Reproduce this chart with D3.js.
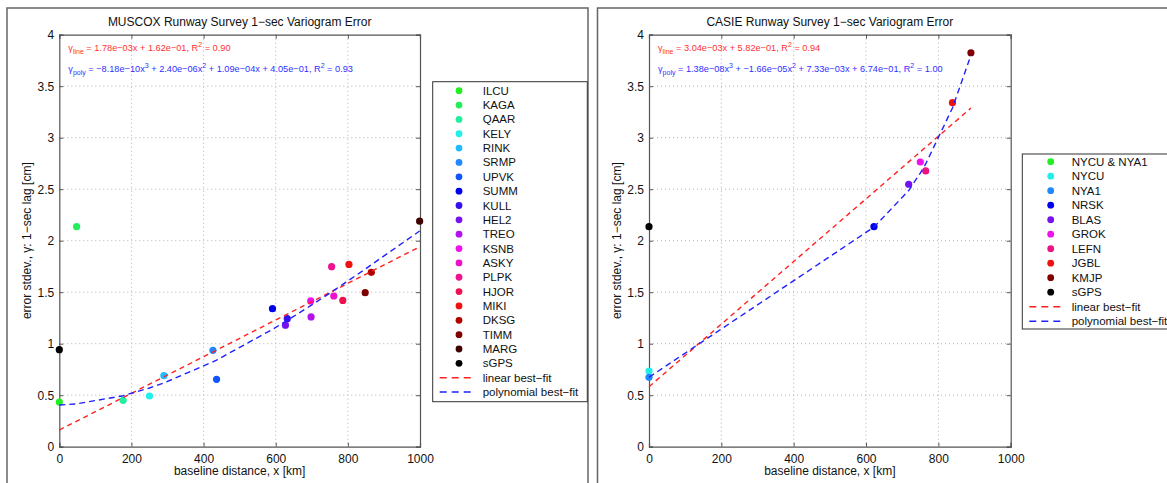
<!DOCTYPE html>
<html>
<head>
<meta charset="utf-8">
<script src="https://cdn.jsdelivr.net/npm/d3@7"></script>
<style>
  body { margin: 0; background: #fff; }
  text { font-family: "Liberation Sans", Arial, Helvetica, sans-serif; }
</style>
</head>
<body>
<svg id="chart" width="1167" height="483"></svg>
<script>
// ---- MUSCOX data ----
const muscoxSites = ["ILCU", "KAGA", "QAAR", "KELY", "RINK", "SRMP", "UPVK", "SUMM", "KULL", "HEL2",
  "TREO", "KSNB", "ASKY", "PLPK", "HJOR", "MIKI", "DKSG", "TIMM", "MARG", "sGPS"];
const muscoxX = [0, 48, 177, 250, 290, 426, 436, 591, 632, 627, 698, 697, 761, 755, 786, 803, 865, 848, 999, 0];
const muscoxY = [0.434, 2.136, 0.45, 0.492, 0.69, 0.936, 0.654, 1.34, 1.243, 1.18, 1.26, 1.415, 1.463, 1.748, 1.42, 1.77, 1.693, 1.495, 2.19, 0.942];
const muscoxColors = ["#22ee22", "#22ee5a", "#22eea0", "#22eeee", "#22bbff", "#2288ff", "#1055ff", "#0000ee", "#3311ee", "#7711ee",
  "#b311ee", "#ee11ee", "#ee11cc", "#ee1190", "#ee1150", "#ee1111", "#b00000", "#800000", "#400000", "#000000"];
const muscoxLinX = [0, 1000];
const muscoxLinY = [0.162, 1.942];
const muscoxPolyX = [0, 48, 177, 250, 290, 426, 436, 591, 627, 632, 697, 698, 755, 761, 786, 803, 848, 865, 999];
const muscoxPolyY = [0.405, 0.416, 0.495, 0.570, 0.619, 0.824, 0.841, 1.139, 1.215, 1.226, 1.370, 1.372, 1.503, 1.517, 1.576, 1.616, 1.724, 1.766, 2.094];
const muscoxLinEq = ["line", " = 1.78e\u221203x + 1.62e\u221201, R", " = 0.90"];
const muscoxPolyEq = ["poly", " = \u22128.18e\u221210x", " + 2.40e\u221206x", " + 1.09e\u221204x + 4.05e\u221201, R", " = 0.93"];

// ---- CASIE data ----
const casieSites = ["NYCU & NYA1", "NYCU", "NYA1", "NRSK", "BLAS", "GROK", "LEFN", "JGBL", "KMJP", "sGPS"];
const casieX = [null, 0, 0, 622, 718, 750, 765, 839, 890, 0];
const casieY = [null, 0.735, 0.674, 2.136, 2.548, 2.764, 2.677, 3.34, 3.825, 2.136];
const casieColors = ["#22ee22", "#22eeee", "#2288ff", "#0000ee", "#7711ee", "#ee11ee", "#ee1180", "#ee1111", "#800000", "#000000"];
const casieLinX = [0, 890];
const casieLinY = [0.582, 3.288];
const casiePolyX = [0, 622, 718, 750, 765, 839, 890];
const casiePolyY = [0.674, 2.132, 2.487, 2.656, 2.745, 3.289, 3.80];
const casieLinEq = ["line", " = 3.04e\u221203x + 5.82e\u221201, R", " = 0.94"];
const casiePolyEq = ["poly", " = 1.38e\u221208x", " + \u22121.66e\u221205x", " + 7.33e\u221203x + 6.74e\u221201, R", " = 1.00"];

const xTicks = [0, 200, 400, 600, 800, 1000];
const yTicks = [0, 0.5, 1, 1.5, 2, 2.5, 3, 3.5, 4];
const fitLabels = ["linear best\u2212fit", "polynomial best\u2212fit"];

const svg = d3.select("#chart");

function drawPanel(p) {
  const g = svg.append("g");

  // outer figure frame
  g.append("rect")
    .attr("x", p.frame[0]).attr("y", p.frame[1])
    .attr("width", p.frame[2]).attr("height", p.frame[3])
    .attr("fill", "none").attr("stroke", "#666").attr("stroke-width", 1.5);

  const x = d3.scaleLinear().domain([0, 1000]).range([p.left, p.right]);
  const y = d3.scaleLinear().domain([0, 4]).range([p.bottom, p.top]);

  // grid
  g.selectAll(".gx").data(xTicks.slice(1, -1)).enter().append("line")
    .attr("x1", d => x(d)).attr("x2", d => x(d))
    .attr("y1", p.top).attr("y2", p.bottom)
    .attr("stroke", "#b0b0b0").attr("stroke-dasharray", "1,3");
  g.selectAll(".gy").data(yTicks.slice(1, -1)).enter().append("line")
    .attr("x1", p.left).attr("x2", p.right)
    .attr("y1", d => y(d)).attr("y2", d => y(d))
    .attr("stroke", "#b0b0b0").attr("stroke-dasharray", "1,3");

  // axes
  const ax = g.append("g").attr("transform", `translate(0,${p.bottom})`)
    .call(d3.axisBottom(x).tickValues(xTicks).tickSize(-4).tickPadding(7).tickFormat(d3.format("d")));
  g.append("g").attr("transform", `translate(${p.left},0)`)
    .call(d3.axisLeft(y).tickValues(yTicks).tickSize(-4).tickPadding(5).tickFormat(d => String(d)));
  g.append("g").attr("transform", `translate(0,${p.top})`)
    .call(d3.axisTop(x).tickValues(xTicks).tickSize(-4).tickFormat(""));
  g.append("g").attr("transform", `translate(${p.right},0)`)
    .call(d3.axisRight(y).tickValues(yTicks).tickSize(-4).tickFormat(""));
  g.selectAll(".domain").attr("stroke", "#555").attr("stroke-width", 1.2);
  g.selectAll(".tick line").attr("stroke", "#555");
  g.selectAll(".tick text").attr("fill", "#111").style("font-size", "12px");
  ax.selectAll(".tick text").attr("dy", "0.75em");

  // points
  const pts = p.sites.map((s, i) => ({ site: s, x: p.xs[i], y: p.ys[i], color: p.colors[i] }))
    .filter(d => d.x !== null);
  g.selectAll(".pt").data(pts).enter().append("circle")
    .attr("cx", d => x(d.x)).attr("cy", d => y(d.y))
    .attr("r", 3.6).attr("fill", d => d.color);

  // fit lines
  const line = d3.line().x(d => x(d[0])).y(d => y(d[1]));
  g.append("path").datum(d3.zip(p.linX, p.linY)).attr("d", line)
    .attr("fill", "none").attr("stroke", "#ff2020").attr("stroke-width", 1.4).attr("stroke-dasharray", "5,4");
  g.append("path").datum(d3.zip(p.polyX, p.polyY)).attr("d", line)
    .attr("fill", "none").attr("stroke", "#2020ff").attr("stroke-width", 1.4).attr("stroke-dasharray", "6,4");

  // equations
  const fs = "9.2px", ss = "7px";
  const eqLin = g.append("text").attr("x", p.left + 9).attr("y", p.top + 16)
    .attr("fill", "#ff3030").style("font-size", fs);
  eqLin.append("tspan").text("\u03b3");
  eqLin.append("tspan").attr("dy", 3).style("font-size", ss).text(p.linEq[0]);
  eqLin.append("tspan").attr("dy", -3).text(p.linEq[1]);
  eqLin.append("tspan").attr("dy", -4).style("font-size", ss).text("2");
  eqLin.append("tspan").attr("dy", 4).text(p.linEq[2]);

  const eqPoly = g.append("text").attr("x", p.left + 9).attr("y", p.top + 37)
    .attr("fill", "#3030ff").style("font-size", fs);
  eqPoly.append("tspan").text("\u03b3");
  eqPoly.append("tspan").attr("dy", 3).style("font-size", ss).text(p.polyEq[0]);
  eqPoly.append("tspan").attr("dy", -3).text(p.polyEq[1]);
  eqPoly.append("tspan").attr("dy", -4).style("font-size", ss).text("3");
  eqPoly.append("tspan").attr("dy", 4).text(p.polyEq[2]);
  eqPoly.append("tspan").attr("dy", -4).style("font-size", ss).text("2");
  eqPoly.append("tspan").attr("dy", 4).text(p.polyEq[3]);
  eqPoly.append("tspan").attr("dy", -4).style("font-size", ss).text("2");
  eqPoly.append("tspan").attr("dy", 4).text(p.polyEq[4]);

  // title and axis labels
  g.append("text").attr("x", (p.left + p.right) / 2).attr("y", 26)
    .attr("text-anchor", "middle").style("font-size", "12px").attr("fill", "#111").text(p.title);
  g.append("text").attr("x", (p.left + p.right) / 2).attr("y", 475)
    .attr("text-anchor", "middle").style("font-size", "12px").attr("fill", "#111")
    .text("baseline distance, x [km]");
  g.append("text").attr("transform", `translate(${p.left - 28},${(p.top + p.bottom) / 2}) rotate(-90)`)
    .attr("text-anchor", "middle").style("font-size", "12px").attr("fill", "#111")
    .text("error stdev., \u03b3: 1\u2212sec lag [cm]");

  // legend
  const L = p.legend;
  g.append("rect").attr("x", L.x).attr("y", L.y).attr("width", L.w).attr("height", L.h)
    .attr("fill", "#fff").attr("stroke", "#333").attr("stroke-width", 1);
  const lg = g.append("g");
  p.sites.forEach((s, i) => {
    const cy = L.y + L.first + i * L.step;
    lg.append("circle").attr("cx", L.x + L.marker).attr("cy", cy).attr("r", 3.4).attr("fill", p.colors[i]);
    lg.append("text").attr("x", L.x + L.text).attr("y", cy + 4).style("font-size", "11.5px").attr("fill", "#111").text(s);
  });
  fitLabels.forEach((s, j) => {
    const cy = L.y + L.first + (p.sites.length + j) * L.step;
    lg.append("line").attr("x1", L.x + 7).attr("x2", L.x + 42).attr("y1", cy).attr("y2", cy)
      .attr("stroke", j === 0 ? "#ff2020" : "#2020ff").attr("stroke-width", 1.4).attr("stroke-dasharray", "7,5");
    lg.append("text").attr("x", L.x + L.text).attr("y", cy + 4).style("font-size", "11.5px").attr("fill", "#111").text(s);
  });
}

drawPanel({
  title: "MUSCOX Runway Survey 1\u2212sec Variogram Error",
  frame: [7, 8, 581, 500],
  left: 59.3, right: 420, top: 34.7, bottom: 446.7,
  sites: muscoxSites, xs: muscoxX, ys: muscoxY, colors: muscoxColors,
  linX: muscoxLinX, linY: muscoxLinY, polyX: muscoxPolyX, polyY: muscoxPolyY,
  linEq: muscoxLinEq, polyEq: muscoxPolyEq,
  legend: { x: 432.7, y: 81.7, w: 154.6, h: 320, first: 9, step: 14.35, marker: 26.3, text: 50 }
});

drawPanel({
  title: "CASIE Runway Survey 1\u2212sec Variogram Error",
  frame: [597.5, 8, 600, 500],
  left: 649, right: 1010.7, top: 34.7, bottom: 446.7,
  sites: casieSites, xs: casieX, ys: casieY, colors: casieColors,
  linX: casieLinX, linY: casieLinY, polyX: casiePolyX, polyY: casiePolyY,
  linEq: casieLinEq, polyEq: casiePolyEq,
  legend: { x: 1022.3, y: 154, w: 170, h: 175, first: 7.7, step: 14.5, marker: 28.4, text: 49.4 }
});
</script>
</body>
</html>
